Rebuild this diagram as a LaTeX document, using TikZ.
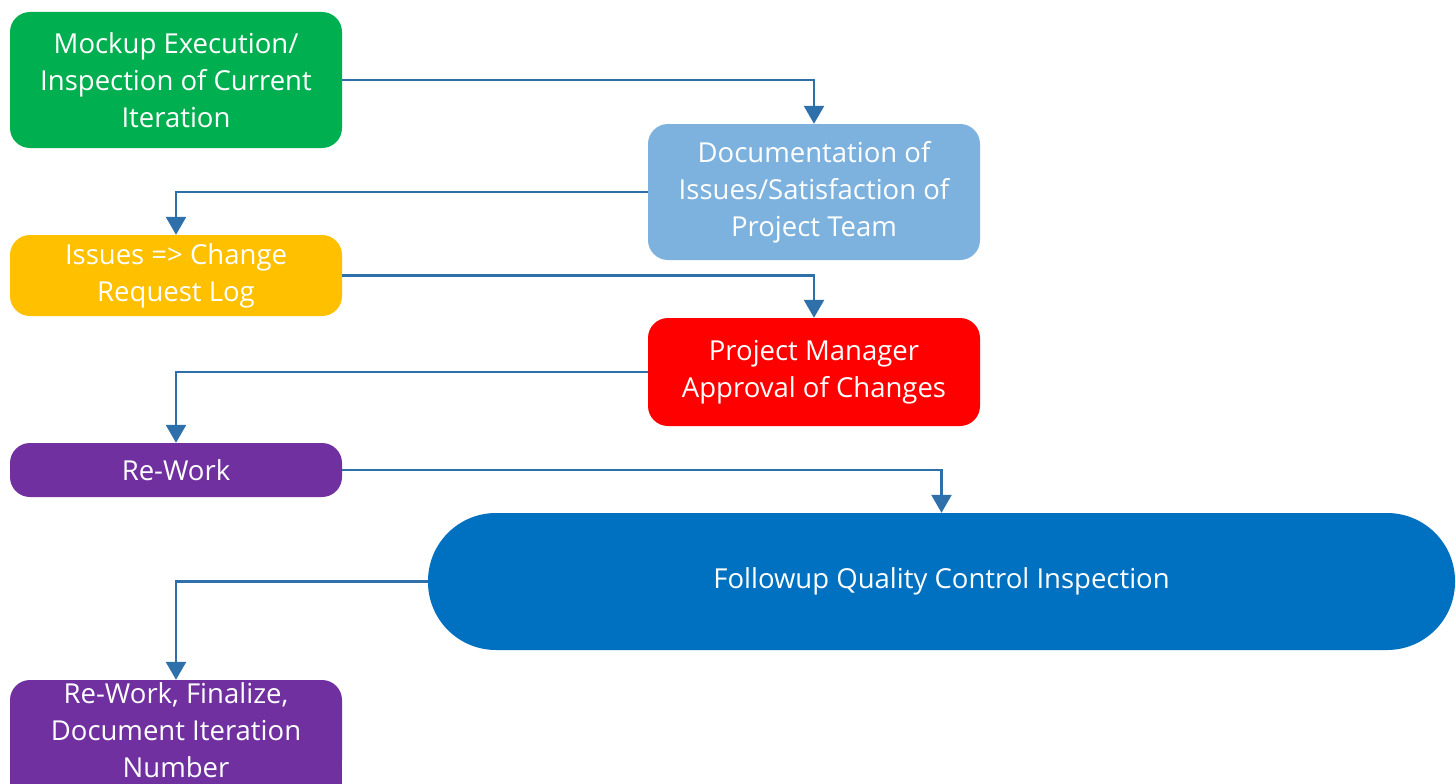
\documentclass[tikz,border=0pt]{standalone}
\usepackage{fontspec}
\setmainfont{Open Sans}
\usetikzlibrary{arrows.meta}
\definecolor{cgreen}{RGB}{0,176,80}
\definecolor{cltblue}{RGB}{125,178,222}
\definecolor{cyellow}{RGB}{255,192,0}
\definecolor{cred}{RGB}{255,0,0}
\definecolor{cpurple}{RGB}{112,48,160}
\definecolor{cblue}{RGB}{0,112,192}
\definecolor{carrow}{RGB}{46,112,170}
\tikzset{
  box/.style={rounded corners=20pt, minimum width=332pt, inner sep=0pt,
    text=white, align=center, font=\fontsize{27.5}{37}\selectfont},
  flow/.style={draw=carrow, line width=2.6pt,
    -{Triangle[width=20pt,length=18pt]}},
}
\begin{document}
\begin{tikzpicture}[x=1pt,y=-1pt]
\clip (0,0) rectangle (1456,784);
\useasboundingbox (0,0) rectangle (1456,784);
\fill[white] (0,0) rectangle (1456,784);

\node[box, fill=cgreen, minimum height=136pt] (mock) at (176,80)
  {Mockup Execution/\\Inspection of Current\\Iteration};
\node[box, fill=cltblue, minimum height=136pt] (doc) at (814,192)
  {Documentation of\\Issues/Satisfaction of\\Project Team};
\node[box, fill=cyellow, minimum height=81pt] (log) at (176,275.5)
  {Issues => Change\\Request Log};
\node[box, fill=cred, minimum height=108pt] (pm) at (814,372)
  {Project Manager\\Approval of Changes};
\node[box, fill=cpurple, minimum height=54pt] (rework) at (176,470)
  {Re-Work};
\node[box, fill=cblue, rounded corners=68pt, minimum width=1027pt,
  minimum height=137pt] (qc) at (941.5,581.5)
  {Followup Quality Control Inspection};
% the last box runs past the lower edge of the page
\fill[cpurple] (10,740) rectangle (342,800);
\node[box, fill=cpurple, minimum height=100pt] (final) at (176,730)
  {Re-Work, Finalize,\\Document Iteration\\Number};

\draw[flow] (mock.east) -| (doc.north);
\draw[flow] (doc.west) -| (log.north);
\draw[flow] (log.east) -| (pm.north);
\draw[flow] (pm.west) -| (rework.north);
\draw[flow] (rework.east) -| (qc.north);
\draw[flow] (qc.west) -| (final.north);
\end{tikzpicture}
\end{document}
